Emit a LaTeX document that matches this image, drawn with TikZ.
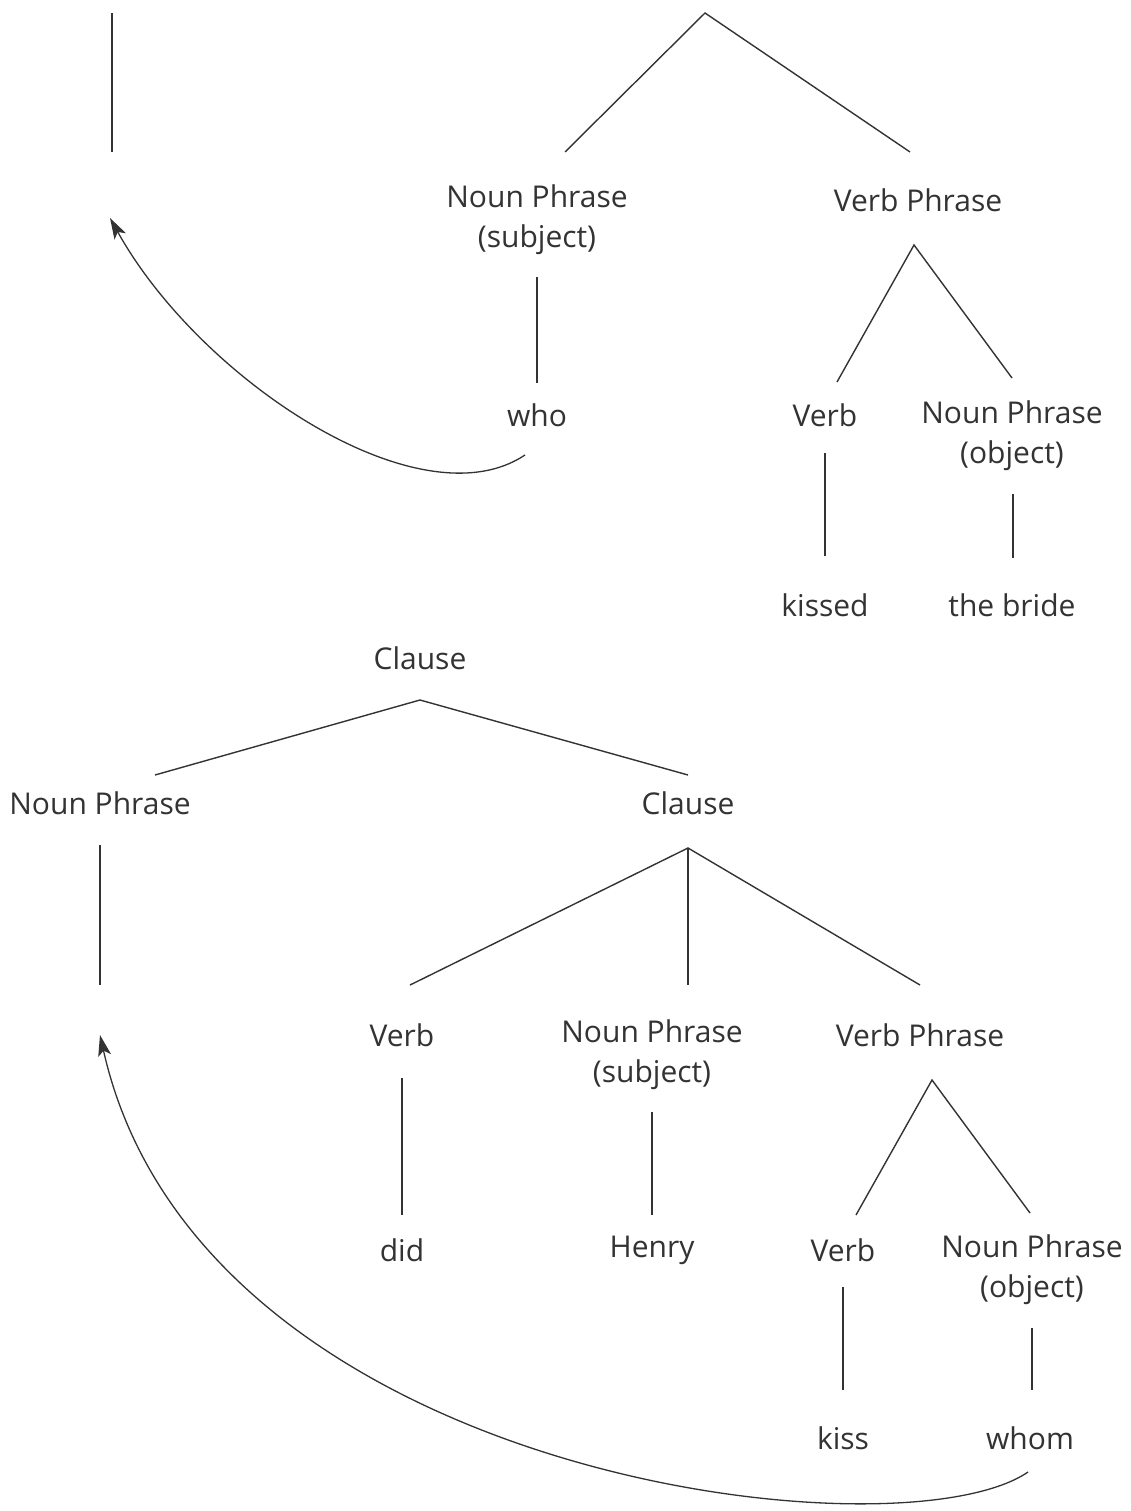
\documentclass[tikz,border=0pt]{standalone}
\usepackage{fontspec}
\setmainfont{Open Sans}
\usetikzlibrary{arrows.meta,calc}
\definecolor{ink}{HTML}{333333}
\begin{document}
\begin{tikzpicture}[x=1pt,y=-1pt,
  lbl/.style={inner sep=0pt,text=ink,font=\fontsize{30}{40}\selectfont,align=center},
  edge/.style={draw=ink,line width=1.4pt},
  move/.style={draw=ink,line width=1.3pt,-{Stealth[length=21pt,width=13pt,inset=5pt]}}]
\useasboundingbox[fill=white] (0,0) rectangle (1130,1511);

% ---------- upper tree: "who kissed the bride" ----------
\coordinate (topA) at (112,13);
\coordinate (topB) at (112,152);
\coordinate (apex1) at (705,13);
\node[lbl] (np1)   at (537,220) {Noun Phrase\\(subject)};
\node[lbl] (vp1)   at (918,200) {Verb Phrase};
\node[lbl] (who)   at (537,415) {who};
\node[lbl] (verb1) at (825,415) {Verb};
\node[lbl] (np2)   at (1012,436) {Noun Phrase\\(object)};
\node[lbl] (kissed) at (825,605) {kissed};
\node[lbl] (bride) at (1012,605) {the bride};

\draw[edge] (topA) -- (topB);
\draw[edge] ($(np1)+(28,-68)$) -- (apex1) -- ($(vp1)+(-8,-48)$);
\draw[edge] ($(np1)+(0,57)$) -- ($(who)+(0,-32)$);
\draw[edge] ($(verb1)+(12,-33)$) -- ($(vp1)+(-4,45)$) -- ($(np2)+(0,-58)$);
\draw[edge] ($(verb1)+(0,38)$) -- ($(kissed)+(0,-49)$);
\draw[edge] ($(np2)+(1,58)$) -- ($(bride)+(1,-47)$);
\draw[move] ($(who)+(-12,40)$) .. controls (420,525) and (200,380) .. ($(topB)+(-2,66)$);

% ---------- lower tree: "whom did Henry kiss" ----------
\node[lbl] (cl1)   at (420,658) {Clause};
\node[lbl] (np3)   at (100,803) {Noun Phrase};
\node[lbl] (cl2)   at (688,803) {Clause};
\node[lbl] (verb2) at (402,1035) {Verb};
\node[lbl] (np4)   at (652,1055) {Noun Phrase\\(subject)};
\node[lbl] (vp2)   at (920,1035) {Verb Phrase};
\node[lbl] (did)   at (402,1250) {did};
\node[lbl] (henry) at (652,1250) {Henry};
\node[lbl] (verb3) at (843,1250) {Verb};
\node[lbl] (np5)   at (1032,1270) {Noun Phrase\\(object)};
\node[lbl] (kiss)  at (843,1438) {kiss};
\node[lbl] (whom)  at (1030,1438) {whom};
\coordinate (landing) at (100,1035);

\draw[edge] ($(np3)+(55,-28)$) -- ($(cl1)+(0,42)$) -- ($(cl2)+(0,-28)$);
\draw[edge] ($(np3)+(0,42)$) -- ($(np3)+(0,182)$);
\draw[edge] ($(verb2)+(8,-50)$) -- ($(cl2)+(0,45)$) -- ($(vp2)+(0,-50)$);
\draw[edge] ($(cl2)+(0,45)$) -- ($(np4)+(36,-70)$);
\draw[edge] ($(verb2)+(0,43)$) -- ($(did)+(0,-35)$);
\draw[edge] ($(np4)+(0,57)$) -- ($(henry)+(0,-35)$);
\draw[edge] ($(verb3)+(13,-35)$) -- ($(vp2)+(12,45)$) -- ($(np5)+(-2,-57)$);
\draw[edge] ($(verb3)+(0,37)$) -- ($(kiss)+(0,-48)$);
\draw[edge] ($(np5)+(0,58)$) -- ($(whom)+(2,-48)$);
\draw[move] ($(whom)+(-2,34)$) .. controls (900,1560) and (200,1480) .. (landing);
\end{tikzpicture}
\end{document}
